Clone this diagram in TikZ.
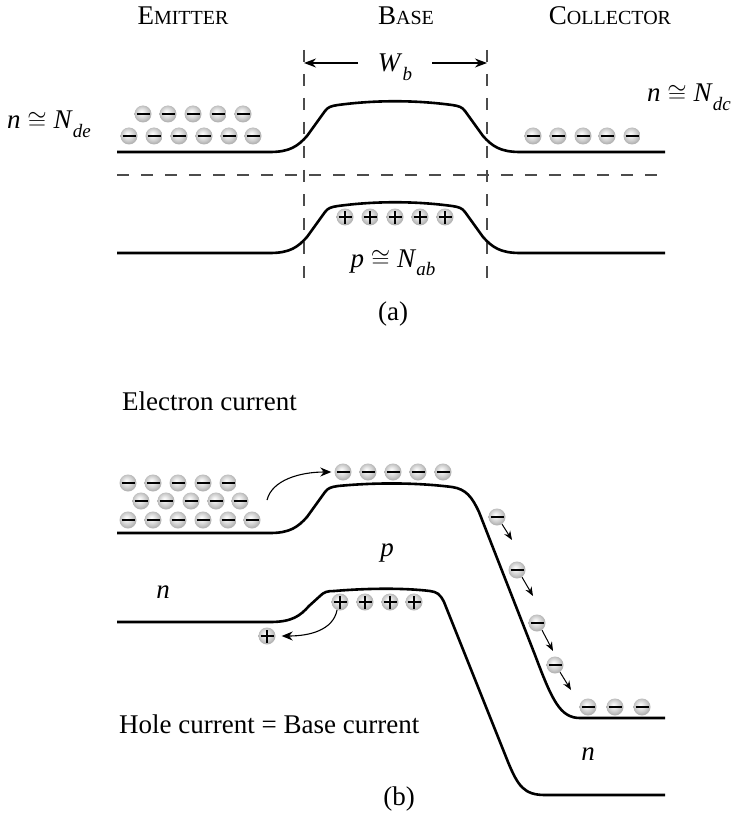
\documentclass[tikz,border=0pt]{standalone}
\usepackage{fontspec}
\setmainfont{Liberation Serif}
\usetikzlibrary{arrows.meta}
\pgfdeclareradialshading{ballgray}{\pgfpoint{-5bp}{6bp}}{color(0bp)=(white); color(8bp)=(black!8); color(18bp)=(black!20); color(25bp)=(black!30); color(50bp)=(black!30)}
\newcommand{\bigfont}{\fontsize{27}{32}\selectfont}
\newcommand{\scfont}{\fontsize{20}{24}\selectfont}
\newcommand{\lowidx}[1]{\raisebox{-0.3em}{\fontsize{19}{22}\selectfont\itshape #1}}
\begin{document}
\begin{tikzpicture}[x=1pt,y=-1pt,font=\bigfont,
  band/.style={line width=2.6pt, line join=round},
  guide/.style={line width=1.3pt, black!70, dash pattern=on 12pt off 12pt},
  ptcl/.style={circle, inner sep=0pt, minimum size=17pt, shading=ballgray},
  elec/.style={ptcl, path picture={\draw[line width=1.8pt] ([xshift=-6.5pt]path picture bounding box.center) -- ([xshift=6.5pt]path picture bounding box.center);}},
  hole/.style={ptcl, path picture={\draw[line width=1.8pt] ([xshift=-6.5pt]path picture bounding box.center) -- ([xshift=6.5pt]path picture bounding box.center) ([yshift=-6.5pt]path picture bounding box.center) -- ([yshift=6.5pt]path picture bounding box.center);}},
  lbl/.style={anchor=base, inner sep=0pt},
  arr/.style={-{Stealth[length=12pt,width=9pt]}, line width=1.3pt},
  carr/.style={-{Stealth[length=11pt,width=9pt]}, line width=1.1pt},
  sarr/.style={-{Stealth[length=9pt,width=7pt]}, line width=1pt}]
\useasboundingbox (0,0) rectangle (735,813);

% ---------------- (a) ----------------
\node[lbl] (emt) at (183,25) {E{\scfont MITTER}};
\node[lbl] (bas) at (406,25) {B{\scfont ASE}};
\node[lbl] (col) at (610,25) {C{\scfont OLLECTOR}};

\coordinate (vLt) at (304,50); \coordinate (vLb) at (304,278);
\coordinate (vRt) at (487,50); \coordinate (vRb) at (487,278);
\draw[guide] (vLt) -- (vLb);
\draw[guide] (vRt) -- (vRb);
\coordinate (fl) at (117,175); \coordinate (fr) at (665,175);
\draw[guide] (fl) -- (fr);

\node[lbl] (wb) at (395,72) {\textit{W}\lowidx{b}};
\coordinate (wbLs) at (358,63); \coordinate (wbL) at (304,63);
\coordinate (wbRs) at (432,63); \coordinate (wbR) at (487,63);
\draw[arr] (wbLs) -- (wbL);
\draw[arr] (wbRs) -- (wbR);

\foreach \s in {0,101}{
\begin{scope}[shift={(0,\s)}]
\draw[band] (117,152) -- (270,152) .. controls (290,152) and (298,146) .. (307,136) -- (325,111)
  .. controls (328,107) and (331,106) .. (338,105) .. controls (375,100) and (415,100) .. (452,105)
  .. controls (459,106) and (462,107) .. (465,111) -- (483,136) .. controls (492,146) and (500,152) .. (520,152) -- (665,152);
\end{scope}}

\foreach \x [count=\i] in {143,168,193,218,243}{\node[elec] (ea\i) at (\x,114) {};}
\foreach \x [count=\i] in {129,154,179,204,229,253}{\node[elec] (eb\i) at (\x,136) {};}
\foreach \x [count=\i] in {533,558,583,607,632}{\node[elec] (ec\i) at (\x,136) {};}
\foreach \x [count=\i] in {345,370,395,420,445}{\node[hole] (ha\i) at (\x,217) {};}

\node[lbl, anchor=base west] (nde) at (7,129) {\textit{n} $\cong$ \textit{N}\lowidx{de}};
\node[lbl, anchor=base west] (ndc) at (647,102) {\textit{n} $\cong$ \textit{N}\lowidx{dc}};
\node[lbl] (nab) at (393,267) {\textit{p} $\cong$ \textit{N}\lowidx{ab}};
\node[lbl] (capa) at (393,320) {(a)};

% ---------------- (b) ----------------
\node[lbl, anchor=base west] (ecur) at (122,410) {Electron current};

\draw[band] (117,533) -- (270,533) .. controls (290,533) and (298,527) .. (307,517) -- (325,492)
  .. controls (328,488) and (331,487) .. (338,486) .. controls (380,482) and (420,483) .. (452,487)
  .. controls (466,489) and (472,497) .. (479,512) -- (535,655) .. controls (552,700) and (560,718) .. (580,718) -- (665,718);

\draw[band] (117,622) -- (270,622) .. controls (292,622) and (300,616) .. (309,606) -- (320,596)
  .. controls (324,592) and (327,591) .. (334,591) .. controls (370,588) and (405,588) .. (430,591)
  .. controls (437,592) and (440,594) .. (444,602) -- (508,762) .. controls (518,786) and (524,795) .. (545,795) -- (665,795);

\foreach \x [count=\i] in {128,153,178,203,228}{\node[elec] (ra\i) at (\x,483) {};}
\foreach \x [count=\i] in {141,166,191,216,240}{\node[elec] (rb\i) at (\x,501) {};}
\foreach \x [count=\i] in {128,153,178,203,228,252}{\node[elec] (rc\i) at (\x,520) {};}
\foreach \x [count=\i] in {343,368,393,418,443}{\node[elec] (be\i) at (\x,472) {};}
\foreach \x [count=\i] in {588,615,642}{\node[elec] (ce\i) at (\x,707) {};}

\coordinate (ea0) at (267,500);
\draw[carr, shorten >=3pt] (ea0) .. controls (272,480) and (300,472) .. (be1.west);

\node[elec] (f1) at (497,517) {};
\node[elec] (f2) at (517,570) {};
\node[elec] (f3) at (537,623) {};
\node[elec] (f4) at (555,665) {};
\coordinate (f1t) at (512,540);
\coordinate (f2t) at (533,596);
\coordinate (f3t) at (553,651);
\coordinate (f4t) at (571,690);
\draw[sarr] (f1.-55) -- (f1t);
\draw[sarr] (f2.-55) -- (f2t);
\draw[sarr] (f3.-55) -- (f3t);
\draw[sarr] (f4.-55) -- (f4t);

\foreach \x [count=\i] in {340,365,390,414}{\node[hole] (hb\i) at (\x,602) {};}
\node[hole] (eh) at (267,636) {};
\draw[carr, shorten >=6pt] (hb1.250) .. controls (333,630) and (310,636) .. (eh.east);

\node[lbl] (pb) at (387,556) {\textit{p}};
\node[lbl] (nb1) at (163,598) {\textit{n}};
\node[lbl] (nb2) at (588,760) {\textit{n}};
\node[lbl, anchor=base west] (hcur) at (119,733) {Hole current = Base current};
\node[lbl] (capb) at (399,805) {(b)};
\end{tikzpicture}
\end{document}
